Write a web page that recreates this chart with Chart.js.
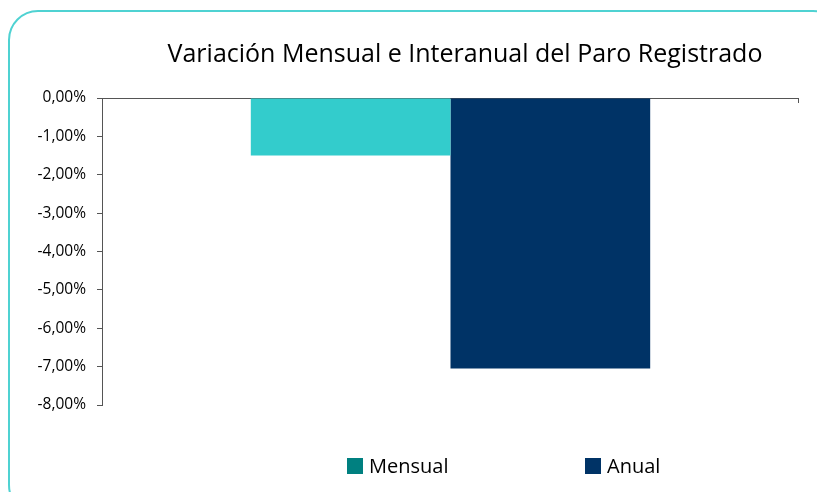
<!DOCTYPE html>
<html>
<head>
<meta charset="utf-8">
<script src="https://cdn.jsdelivr.net/npm/chart.js@4.4.0/dist/chart.umd.min.js"></script>
<style>
  html, body { margin: 0; padding: 0; background: #fff; }
  #wrap { position: relative; width: 817px; height: 492px; overflow: hidden; }
  #frame {
    position: absolute; left: 8px; top: 10px; width: 835px; height: 505px;
    border: 2px solid #4fd2d2; border-radius: 30px; box-sizing: border-box;
  }
  #wrap canvas { position: absolute; left: 0; top: 0; }
</style>
</head>
<body>
<div id="wrap">
  <div id="frame"></div>
  <canvas id="paroChart" width="817" height="492"></canvas>
</div>
<script>
// datos
const titleText = 'Variación Mensual e Interanual del Paro Registrado';
const categories = ['Paro registrado'];
const seriesNames = ['Mensual', 'Anual'];
const mensual = [-1.50];
const anual = [-7.05];
const yMin = -8;
const yMax = 0;
const yStep = 1;

const barColors = ['#33cccc', '#003366'];
const legendColors = ['#008080', '#003366'];

// 0,00% con coma decimal
const fmtPct = v => (Math.abs(v) < 1e-9 ? 0 : v).toFixed(2).replace('.', ',') + '%';

// título, leyenda y marca final del eje X dibujados a mano
const chromePlugin = {
  id: 'chrome',
  afterDraw(chart) {
    const ctx = chart.ctx;
    const area = chart.chartArea;
    ctx.save();
    ctx.strokeStyle = '#555';
    ctx.lineWidth = 1;
    ctx.beginPath();
    ctx.moveTo(Math.round(area.right) - 0.5, area.top);
    ctx.lineTo(Math.round(area.right) - 0.5, area.top + 5);
    ctx.stroke();

    ctx.fillStyle = '#000';
    ctx.font = '25px "Open Sans"';
    ctx.textAlign = 'center';
    ctx.textBaseline = 'alphabetic';
    ctx.fillText(titleText, 465, 62);

    const legendX = [347, 585];
    const legendY = 466;
    ctx.font = '20px "Open Sans"';
    ctx.textAlign = 'left';
    ctx.textBaseline = 'middle';
    chart.data.datasets.forEach((ds, i) => {
      ctx.fillStyle = ds.legendColor;
      ctx.fillRect(legendX[i], legendY - 8, 16, 16);
      ctx.fillStyle = '#000';
      ctx.fillText(ds.label, legendX[i] + 22, legendY + 1);
    });
    ctx.restore();
  }
};

const ctx = document.getElementById('paroChart').getContext('2d');
const paroChart = new Chart(ctx, {
  type: 'bar',
  data: {
    labels: categories,
    datasets: [
      { label: seriesNames[0], data: mensual, backgroundColor: barColors[0], legendColor: legendColors[0] },
      { label: seriesNames[1], data: anual, backgroundColor: barColors[1], legendColor: legendColors[1] }
    ]
  },
  options: {
    responsive: false,
    animation: false,
    layout: { padding: { top: 98, right: 18, bottom: 87, left: 0 } },
    datasets: {
      bar: { barPercentage: 1, categoryPercentage: 0.573 }
    },
    scales: {
      x: { display: false },
      y: {
        min: yMin,
        max: yMax,
        ticks: {
          stepSize: yStep,
          padding: 11,
          color: '#000',
          font: { family: 'Open Sans', size: 15.5 },
          callback: v => fmtPct(v)
        },
        grid: {
          drawOnChartArea: true,
          tickLength: 5,
          tickColor: '#555',
          color: c => (c.tick && c.tick.value === 0 ? '#555' : 'rgba(0,0,0,0)')
        },
        border: { display: true, color: '#555', width: 1 },
        afterFit: s => { s.width = 102; }
      }
    },
    plugins: {
      legend: { display: false },
      title: { display: false },
      tooltip: { enabled: false }
    }
  },
  plugins: [chromePlugin]
});
</script>
</body>
</html>
